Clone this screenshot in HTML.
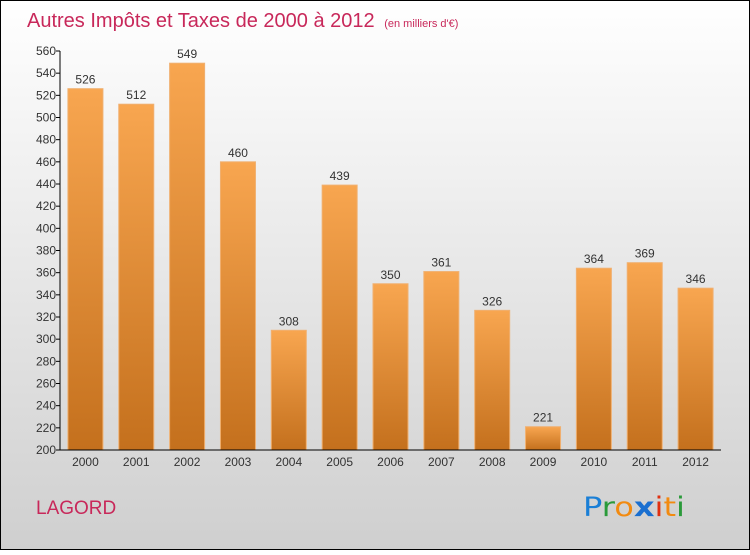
<!DOCTYPE html>
<html><head><meta charset="utf-8"><style>
body{margin:0}
#c{width:750px;height:550px;position:relative;font-family:"Liberation Sans",sans-serif}
</style></head><body>
<div id="c">
<svg width="750" height="550" xmlns="http://www.w3.org/2000/svg" id="svg" font-family="'Liberation Sans',sans-serif">
<defs>
<linearGradient id="bg" x1="0" y1="0" x2="0" y2="1"><stop offset="0" stop-color="#ffffff"/><stop offset="1" stop-color="#cfcfcf"/></linearGradient>
<linearGradient id="bar" x1="0" y1="0" x2="0" y2="1"><stop offset="0" stop-color="#f8a650"/><stop offset="1" stop-color="#c4701d"/></linearGradient>
</defs>
<rect x="0.5" y="0.5" width="749" height="549" fill="url(#bg)" stroke="#000"/>
<text x="27" y="27" font-size="20" fill="#c8285a">Autres Impôts et Taxes de 2000 à 2012 <tspan font-size="11" dx="4">(en milliers d'€)</tspan></text>
<g id="plot"></g>
<text x="36" y="514" font-size="19" fill="#c8285a">LAGORD</text>
<text x="583" y="516" font-size="27" font-family="'DejaVu Sans',sans-serif" textLength="102" lengthAdjust="spacingAndGlyphs"><tspan fill="#1a7fd6">P</tspan><tspan fill="#2a9a3a">r</tspan><tspan fill="#f28a10">o</tspan><tspan fill="#1a6fd0" font-weight="bold">x</tspan><tspan fill="#e03010">i</tspan><tspan fill="#f28a10">t</tspan><tspan fill="#2a9a3a">i</tspan></text>
</svg>
</div>
<script>
const categories=["2000","2001","2002","2003","2004","2005","2006","2007","2008","2009","2010","2011","2012"];
const values=[526,512,549,460,308,439,350,361,326,221,364,369,346];
const yTicks=[200,220,240,260,280,300,320,340,360,380,400,420,440,460,480,500,520,540,560];
const X0=60,X1=721,Y0=450,Y1=51,VMIN=200,VMAX=560;
const bw=(X1-X0)/categories.length;
const y=v=>Y0-(v-VMIN)/(VMAX-VMIN)*(Y0-Y1);
const x=i=>X0+bw*(i+0.5);
const g=document.getElementById('plot');const NS="http://www.w3.org/2000/svg";
function mk(t,a){const e=document.createElementNS(NS,t);for(const k in a)e.setAttribute(k,a[k]);g.appendChild(e);return e;}
values.forEach((v,i)=>{
 const r=mk('rect',{x:x(i)-17.5,y:y(v),width:35,height:Y0-y(v),fill:'url(#bar)',stroke:'#f0b070','stroke-width':1});
 
 
 const t=mk('text',{x:x(i),y:y(v)-5,'text-anchor':'middle','font-size':12,fill:'#333'});t.textContent=v;
 
 
 const c=mk('text',{x:x(i),y:466,'text-anchor':'middle','font-size':12,fill:'#333'});c.textContent=categories[i];
 
 
});
yTicks.forEach(v=>{
 const l=mk('line',{x1:X0-4,x2:X0,y1:y(v),y2:y(v),stroke:'#000'});
 
 
 const t=mk('text',{x:X0-4,y:y(v)+4,'text-anchor':'end','font-size':12,fill:'#333'});t.textContent=v;
 
 
});
const ya=mk('line',{x1:X0,x2:X0,y1:Y1,y2:Y0,stroke:'#000'});


const xa=mk('line',{x1:X0,x2:X1,y1:Y0,y2:Y0,stroke:'#000'});


</script>
</body></html>
